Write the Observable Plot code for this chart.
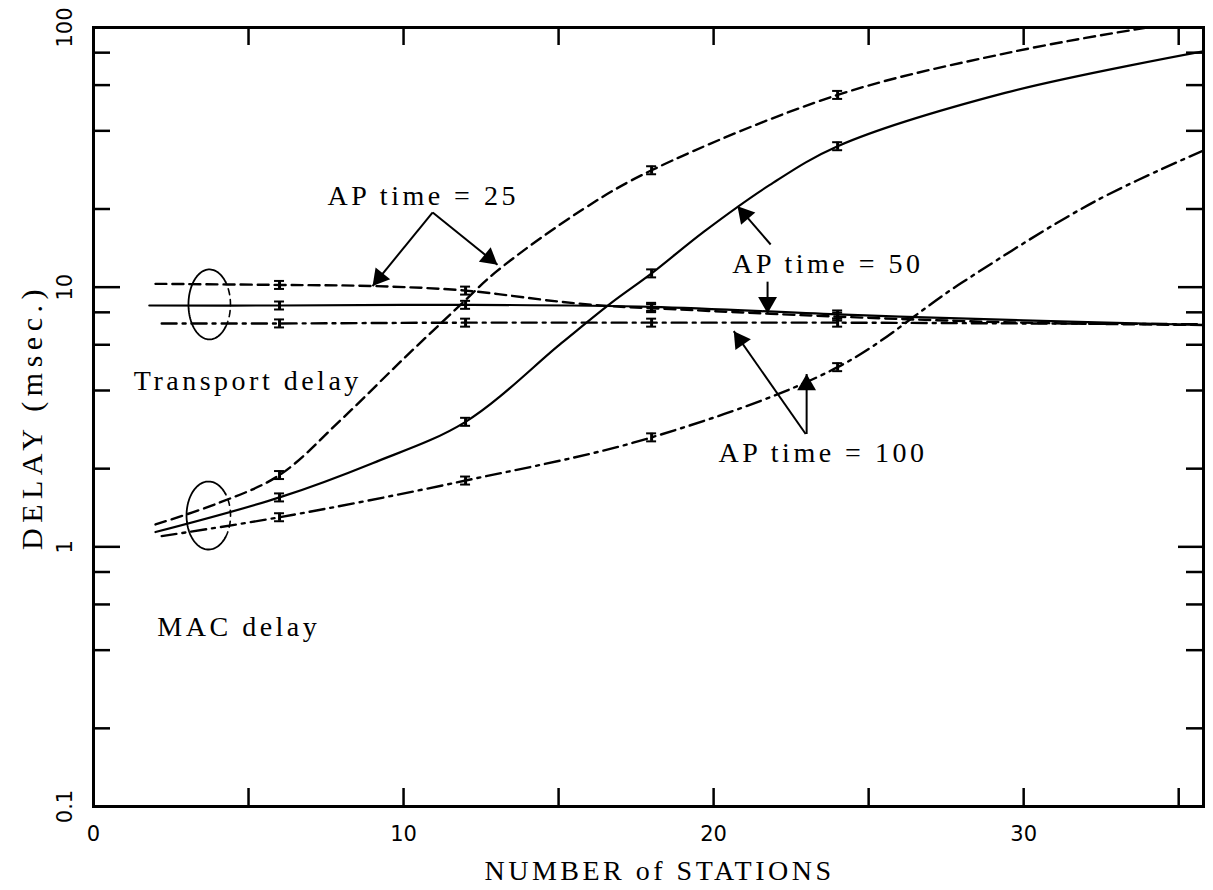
<!DOCTYPE html>
<html><head><meta charset="utf-8">
<script src="https://cdn.jsdelivr.net/npm/d3@7"></script>
<script src="https://cdn.jsdelivr.net/npm/@observablehq/plot@0.6"></script>
<style>
body{margin:0;background:#fff;}
#chart{position:absolute;left:0;top:0;}
g[font-family="Liberation Serif"] text{letter-spacing:3.5px;}
g[font-family="Liberation Serif"][font-size="30"] text{letter-spacing:5.5px;}
</style></head><body><div id="chart"></div>
<script>
// ---------- data ----------
// MAC delay curves
const ap25_macX  = [2, 4, 6, 8, 10, 11.8, 13, 15.8, 18, 24, 29.3, 34, 36];
const ap25_macY  = [1.22, 1.47, 1.89, 3.1, 5.3, 8.47, 11.5, 20.0, 28.2, 55, 79, 100, 108];
const ap50_macX  = [2, 6, 9, 12, 15.1, 16.7, 18, 19.7, 21.8, 24, 29.4, 35.8];
const ap50_macY  = [1.14, 1.55, 2.1, 3.03, 6.1, 8.7, 11.3, 16.4, 24.7, 34.9, 56, 81];
const ap100_macX = [2.2, 6, 12, 18, 24, 28, 32.3, 35.8];
const ap100_macY = [1.10, 1.30, 1.80, 2.64, 4.92, 10.4, 21.4, 33.6];
// Transport delay curves
const ap25_trX  = [2, 6, 9, 12, 15, 16.7, 18, 24, 30, 35.8];
const ap25_trY  = [10.3, 10.2, 10.1, 9.7, 8.8, 8.45, 8.3, 7.7, 7.3, 7.15];
const ap50_trX  = [1.8, 6, 12, 18, 24, 30, 35.8];
const ap50_trY  = [8.5, 8.5, 8.55, 8.4, 7.85, 7.45, 7.15];
const ap100_trX = [2.2, 6, 12, 18, 24, 30, 35.8];
const ap100_trY = [7.25, 7.25, 7.3, 7.3, 7.3, 7.25, 7.2];
// stations where simulation points (with confidence bars) are shown
const markerStations = [6, 12, 18, 24];
// ticks
const xTickLabels = [0, 10, 20, 30];
const xMinorTicks = [5, 10, 15, 20, 25, 30, 35];
const yTickLabels = [0.1, 1, 10, 100];
const yMajorTicks = [1, 10];
const yMinorTicks = [0.2, 0.4, 0.6, 0.8, 2, 4, 6, 8, 20, 40, 60, 80];
// texts
const xTitle = "NUMBER of STATIONS";
const yTitle = "DELAY (msec.)";
const labels = [
  {text: "Transport delay", x: 1.3, y: 4.35},
  {text: "MAC delay", x: 2.06, y: 0.49},
  {text: "AP time = 25", x: 7.55, y: 22.5},
  {text: "AP time = 50", x: 20.6, y: 12.3},
  {text: "AP time = 100", x: 20.16, y: 2.30}
];
const arrows = [
  {x1: 10.94, y1: 19.4, x2: 9.0,   y2: 10.1},
  {x1: 10.94, y1: 19.4, x2: 13.03, y2: 12.2},
  {x1: 21.84, y1: 14.6, x2: 20.77, y2: 20.5},
  {x1: 21.74, y1: 10.5, x2: 21.74, y2: 7.92},
  {x1: 22.97, y1: 2.72, x2: 20.65, y2: 6.77},
  {x1: 23.0,  y1: 2.72, x2: 23.0,  y2: 4.63}
];
const ellipses = [
  {id: "tr",  cx: 3.74, cy: 8.58, rx: 21, ry: 35},
  {id: "mac", cx: 3.71, cy: 1.32, rx: 22, ry: 34}
];

// ---------- layout ----------
const W = 1213, H = 890, mL = 93, mR = 10, mT = 27, mB = 84;
const plotW = W - mL - mR, plotH = H - mT - mB;
const xDomain = [0, 35.8], yDomain = [0.1, 100];
const xs = d3.scaleLinear().domain(xDomain).range([mL, W - mR]);
const ys = d3.scaleLog().domain(yDomain).range([H - mB, mT]);

function rows(xArr, yArr, series) { return xArr.map((x, i) => ({x, y: yArr[i], series})); }
const solidRows = [...rows(ap50_macX, ap50_macY, "mac50"), ...rows(ap50_trX, ap50_trY, "tr50")];
const dashRows  = [...rows(ap25_macX, ap25_macY, "mac25"), ...rows(ap25_trX, ap25_trY, "tr25")];
const ddRows    = [...rows(ap100_macX, ap100_macY, "mac100"), ...rows(ap100_trX, ap100_trY, "tr100")];
const markers = [...solidRows, ...dashRows, ...ddRows].filter(d => markerStations.includes(d.x));
const capF = Math.pow(10, 4 / (plotH / 3));
const capW = 5 / (plotW / (xDomain[1] - xDomain[0]));

// arrow heads (filled triangles) placed so the tip sits at the arrow end
const heads = arrows.map(a => {
  const px1 = xs(a.x1), py1 = ys(a.y1), px2 = xs(a.x2), py2 = ys(a.y2);
  const dx = px2 - px1, dy = py2 - py1, L = Math.hypot(dx, dy);
  const back = 10.9;
  const cx = px2 - dx / L * back, cy = py2 - dy / L * back;
  return {x: xs.invert(cx), y: ys.invert(cy), rot: Math.atan2(dx, -dy) * 180 / Math.PI};
});

// ellipses
const ellSolid = [], ellDash = [];
ellipses.forEach(e => {
  const pcx = xs(e.cx), pcy = ys(e.cy);
  for (let k = 0; k <= 80; k++) {
    const t = (40 + k * 280 / 80) * Math.PI / 180;
    ellSolid.push({id: e.id, x: xs.invert(pcx + e.rx * Math.cos(t)), y: ys.invert(pcy - e.ry * Math.sin(t))});
  }
  for (let k = 0; k <= 30; k++) {
    const t = (-40 + k * 80 / 30) * Math.PI / 180;
    ellDash.push({id: e.id, x: xs.invert(pcx + e.rx * Math.cos(t)), y: ys.invert(pcy - e.ry * Math.sin(t))});
  }
});

const serif = "Liberation Serif";
const sans = "DejaVu Sans";
const crv = "catmull-rom";

const chart = Plot.plot({
  width: W, height: H,
  marginLeft: mL, marginRight: mR, marginTop: mT, marginBottom: mB,
  x: {domain: xDomain, axis: null},
  y: {type: "log", domain: yDomain, axis: null},
  style: {background: "white", color: "black", overflow: "visible"},
  marks: [
    // curves
    Plot.line(solidRows, {x: "x", y: "y", z: "series", stroke: "black", strokeWidth: 2.2, curve: crv, clip: true}),
    Plot.line(dashRows, {x: "x", y: "y", z: "series", stroke: "black", strokeWidth: 2.4, strokeDasharray: "11,6", curve: crv, clip: true}),
    Plot.line(ddRows, {x: "x", y: "y", z: "series", stroke: "black", strokeWidth: 2.4, strokeDasharray: "15,6,3,6", curve: crv, clip: true}),
    // confidence bars at simulation points
    Plot.ruleX(markers, {x: "x", y1: d => d.y / capF, y2: d => d.y * capF, stroke: "black", strokeWidth: 3}),
    Plot.ruleY(markers, {y: d => d.y * capF, x1: d => d.x - capW, x2: d => d.x + capW, stroke: "black", strokeWidth: 2}),
    Plot.ruleY(markers, {y: d => d.y / capF, x1: d => d.x - capW, x2: d => d.x + capW, stroke: "black", strokeWidth: 2}),
    // ellipses
    Plot.line(ellSolid, {x: "x", y: "y", z: "id", stroke: "black", strokeWidth: 1.8}),
    Plot.line(ellDash, {x: "x", y: "y", z: "id", stroke: "black", strokeWidth: 1.6, strokeDasharray: "6,5"}),
    // arrows
    Plot.link(arrows, {x1: "x1", y1: "y1", x2: "x2", y2: "y2", stroke: "black", strokeWidth: 2}),
    Plot.dot(heads, {x: "x", y: "y", rotate: "rot", symbol: "triangle", r: 7, fill: "black", stroke: "none"}),
    // frame and inward ticks
    Plot.frame({stroke: "black", strokeWidth: 3}),
    Plot.ruleX(xMinorTicks, {x: d => d, insetTop: plotH - 18, stroke: "black", strokeWidth: 2.5}),
    Plot.ruleX(xMinorTicks, {x: d => d, insetBottom: plotH - 18, stroke: "black", strokeWidth: 2.5}),
    Plot.ruleY(yMinorTicks, {y: d => d, insetRight: plotW - 17, stroke: "black", strokeWidth: 2.5}),
    Plot.ruleY(yMajorTicks, {y: d => d, insetRight: plotW - 27, stroke: "black", strokeWidth: 2.5}),
    Plot.ruleY(yMinorTicks, {y: d => d, insetLeft: plotW - 17, stroke: "black", strokeWidth: 2.5}),
    Plot.ruleY(yMajorTicks, {y: d => d, insetLeft: plotW - 25, stroke: "black", strokeWidth: 2.5}),
    // tick labels
    Plot.text(xTickLabels, {x: d => d, frameAnchor: "bottom", dy: 28, textAnchor: "middle", lineAnchor: "middle", text: d => String(d), fontSize: 21, fontFamily: sans, fill: "black"}),
    Plot.text(yTickLabels, {y: d => d, frameAnchor: "left", dx: -28, rotate: -90, textAnchor: "middle", lineAnchor: "middle", text: d => String(d), fontSize: 21, fontFamily: sans, fill: "black"}),
    // axis titles
    Plot.text([xTitle], {frameAnchor: "bottom", dx: 11, dy: 65, textAnchor: "middle", lineAnchor: "middle", text: d => d, fontSize: 28, fontFamily: serif, fill: "black"}),
    Plot.text([yTitle], {frameAnchor: "left", dx: -61, rotate: -90, textAnchor: "middle", lineAnchor: "middle", text: d => d, fontSize: 30, fontFamily: serif, fill: "black"}),
    // annotations
    Plot.text(labels, {x: "x", y: "y", text: "text", textAnchor: "start", lineAnchor: "middle", fontSize: 28, fontFamily: serif, fill: "black"})
  ]
});
document.getElementById("chart").appendChild(chart);
</script></body></html>
